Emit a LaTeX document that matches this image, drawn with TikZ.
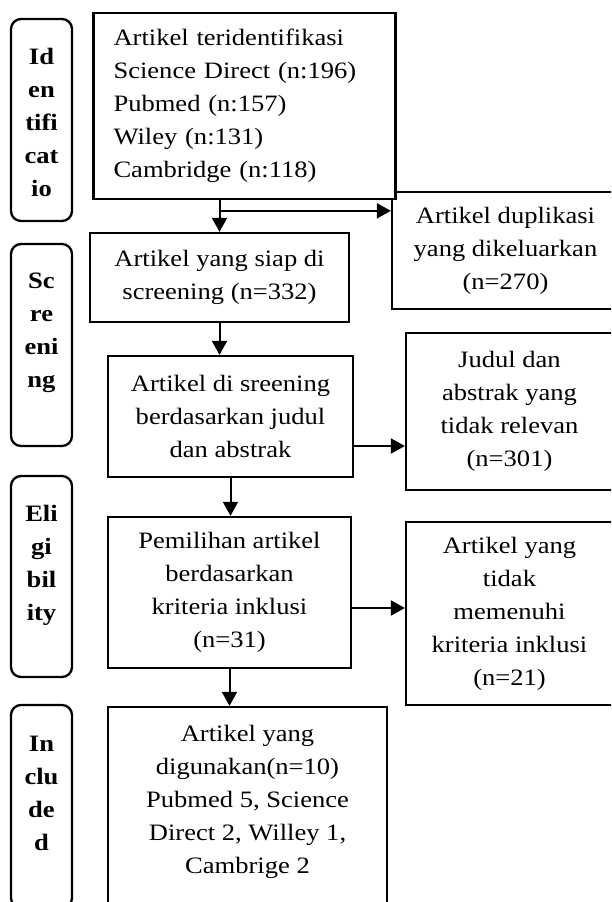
\documentclass[tikz,border=0pt]{standalone}
\usepackage{fontspec}
\setmainfont{Liberation Serif}[FakeStretch=1.13]
\usepackage{tikz}
\usetikzlibrary{positioning,arrows.meta}

\newcommand{\flowsize}{\fontsize{23.5}{33}\selectfont}

\tikzset{
	stage/.style={draw, line width=2.3pt, rounded corners=10pt, minimum width=61pt, inner sep=0pt},
	stagelbl/.style={font=\flowsize\bfseries, align=center, inner sep=0pt},
	flowbox/.style={draw, line width=2.3pt, fill=white, font=\flowsize, align=center, inner sep=0pt},
	boxlbl/.style={font=\flowsize, align=center, inner sep=0pt},
	arr/.style={line width=2pt, -{Triangle[length=14pt,width=15pt]}},
}

\begin{document}
\begin{tikzpicture}[x=1pt, y=-1pt]
				\useasboundingbox (0,0) rectangle (611,902);
				\clip (0,0) rectangle (611,902);
				
				% Stages (left column)
				\node[stage, minimum height=202pt] (sId) at (41.5,120) {};
				\node[stagelbl, below=30pt of sId.north] (sIdTxt) {Id\\en\\tifi\\cat\\io};
				
				\node[stage, minimum height=202pt] (sScr) at (41.5,345) {};
				\node[stagelbl, below=30pt of sScr.north] (sScrTxt) {Sc\\re\\eni\\ng};
				
				\node[stage, minimum height=201pt] (sElig) at (41.5,576.5) {};
				\node[stagelbl, below=30pt of sElig.north] (sEligTxt) {Eli\\gi\\bil\\ity};
				
				\node[stage, minimum height=203pt] (sIncl) at (41.5,806.5) {};
				\node[stagelbl, below=32pt of sIncl.north] (sInclTxt) {In\\clu\\de\\d};
				
				% Excluded (right column)
				\node[flowbox, minimum width=227pt, minimum height=117pt] (dup) at (505.5,250.5) {Artikel duplikasi\\yang dikeluarkan\\(n=270)};
				\node[flowbox, minimum width=207pt, minimum height=157pt] (b4) at (509.5,411.5) {Judul dan\\abstrak yang\\tidak relevan\\(n=301)};
				\node[flowbox, minimum width=207pt, minimum height=183pt] (b6) at (509.5,613.5) {Artikel yang\\tidak\\memenuhi\\kriteria inklusi\\(n=21)};
				
				% Main flow
				\node[flowbox, text width=262pt, inner xsep=20pt, align=left, minimum height=186pt] (b1) at (244.5,106) {Artikel teridentifikasi\\Science Direct (n:196)\\Pubmed (n:157)\\Wiley (n:131)\\Cambridge (n:118)};
				\node[flowbox, minimum width=259pt, minimum height=89pt] (b2) at (219.5,277.5) {Artikel yang siap di\\screening (n=332)};
				\node[flowbox, minimum width=245pt, minimum height=121pt] (b3) at (230.5,416.5) {Artikel di sreening\\berdasarkan judul\\dan abstrak};
				\node[flowbox, minimum width=243pt, minimum height=151pt] (b5) at (229.5,592.5) {Pemilihan artikel\\berdasarkan\\kriteria inklusi\\(n=31)};
				\node[flowbox, minimum width=279pt, minimum height=210pt] (b7) at (247.5,812) {};
				\node[boxlbl, below=19pt of b7.north] (b7Txt) {Artikel yang\\digunakan(n=10)\\Pubmed 5, Science\\Direct 2, Willey 1,\\Cambrige 2};
				
				% Arrows
				\draw[arr] (b1.south -| b2.north) -- (b2.north);
				\path (b2.north) ++(0,-21) coordinate (fork);
				\draw[arr] (fork) -- (fork -| dup.west); % to duplicates
				
				\draw[arr] (b2.south) -- (b2.south |- b3.north);
				\coordinate (out3) at ([yshift=-29.5pt]b3.east);
				\draw[arr] (out3) -- (out3 -| b4.west);
				
				\draw[arr] (b3.south) -- (b3.south |- b5.north);
				\coordinate (out5) at ([yshift=-15.5pt]b5.east);
				\draw[arr] (out5) -- (out5 -| b6.west);
				
				\draw[arr] (b5.south) -- (b5.south |- b7.north);
			\end{tikzpicture}
\end{document}
